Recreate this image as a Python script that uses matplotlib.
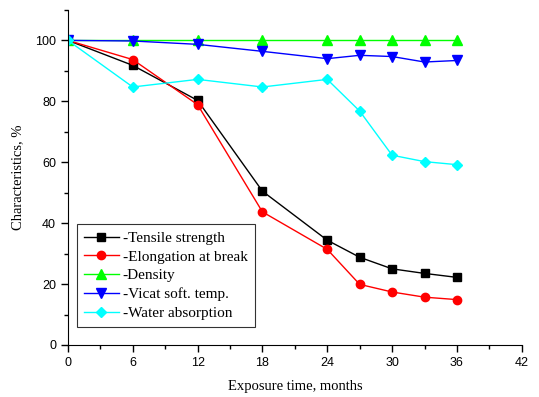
import matplotlib
matplotlib.use("Agg")
import matplotlib.pyplot as plt
from matplotlib.ticker import MultipleLocator

months = [0, 6, 12, 18, 24, 27, 30, 33, 36]
tensile = [100, 91.8, 80.3, 50.5, 34.4, 28.8, 25.0, 23.5, 22.2]
elongation = [100, 93.7, 78.9, 43.7, 31.4, 19.9, 17.4, 15.7, 14.9]
density = [100, 100, 100, 100, 100, 100, 100, 100, 100]
vicat = [100, 99.8, 98.7, 96.4, 94.0, 95.1, 94.7, 92.9, 93.4]
water = [100, 84.7, 87.2, 84.7, 87.2, 76.8, 62.3, 60.2, 59.2]
labels = ["-Tensile strength", "-Elongation at break", "-Density",
          "-Vicat soft. temp.", "-Water absorption"]

fig = plt.figure(figsize=(5.39, 3.97), dpi=100)
ax = fig.add_axes([0.126, 0.131, 0.842, 0.844])

series = [
    (tensile, "black", "s", 5.2),
    (elongation, "red", "o", 6),
    (density, "#00ff00", "^", 6.5),
    (vicat, "#0000ff", "v", 6.5),
    (water, "cyan", "D", 5.5),
]
for (vals, c, m, ms), lab in zip(series, labels):
    ax.plot(months, vals, color=c, marker=m, markersize=ms, lw=1,
            markeredgecolor=c, label=lab)

ax.set_xlim(0, 42)
ax.set_ylim(0, 110)
ax.xaxis.set_major_locator(MultipleLocator(6))
ax.xaxis.set_minor_locator(MultipleLocator(3))
ax.yaxis.set_major_locator(MultipleLocator(20))
ax.yaxis.set_minor_locator(MultipleLocator(10))
ax.set_yticks([0, 20, 40, 60, 80, 100])
for s in ["top", "right"]:
    ax.spines[s].set_visible(False)
ax.tick_params(which="major", length=5, width=1, direction="out",
               labelsize=9)
ax.tick_params(which="minor", length=3, width=1, direction="out")
for t in ax.get_xticklabels() + ax.get_yticklabels():
    t.set_fontfamily("Liberation Sans")

ax.set_xlabel("Exposure time, months", fontfamily="Liberation Serif",
              fontsize=10.5, labelpad=8)
ax.set_ylabel("Characteristics, %", fontfamily="Liberation Serif",
              fontsize=10.5, labelpad=8)

leg = ax.legend(loc="lower left", bbox_to_anchor=(0.02, 0.054),
                prop={"family": "Liberation Serif", "size": 11},
                frameon=True, fancybox=False, edgecolor="black",
                handlelength=2.3, handletextpad=0.25, labelspacing=0.33,
                borderpad=0.45, borderaxespad=0)
leg.get_frame().set_linewidth(0.8)

fig.savefig("out.png", dpi=100)
